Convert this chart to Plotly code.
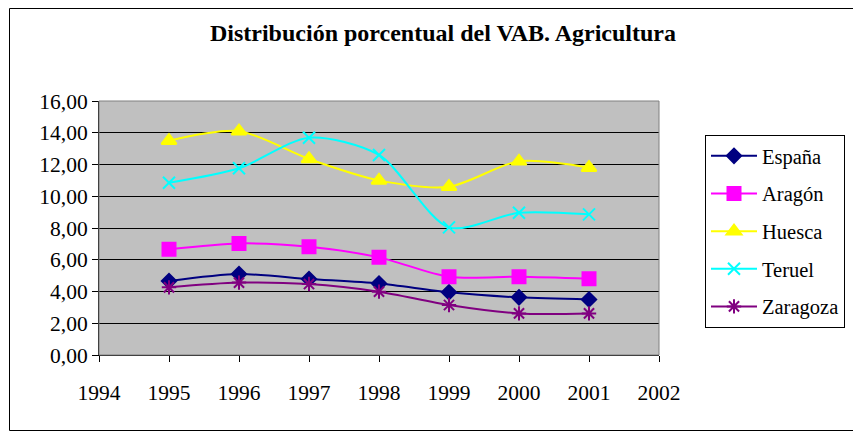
import plotly.graph_objects as go

years = [1995, 1996, 1997, 1998, 1999, 2000, 2001]
espana = [4.66, 5.10, 4.79, 4.50, 3.95, 3.63, 3.50]
aragon = [6.66, 7.03, 6.82, 6.15, 4.93, 4.93, 4.81]
huesca = [13.50, 14.10, 12.35, 11.00, 10.60, 12.20, 11.80]
teruel = [10.85, 11.76, 13.69, 12.60, 8.04, 8.96, 8.86]
zaragoza = [4.26, 4.56, 4.47, 3.99, 3.15, 2.62, 2.62]

series = [
    ("España", espana, "#000080", "diamond", 11),
    ("Aragón", aragon, "#FF00FF", "square", 13),
    ("Huesca", huesca, "#FFFF00", "triangle-up", 13),
    ("Teruel", teruel, "#00FFFF", "x-thin", 12),
    ("Zaragoza", zaragoza, "#800080", "asterisk", 12),
]

FONT = "Liberation Serif"
OFF = 8  # page body margin

W, H = 861 - OFF, 432 - OFF
L, T = 99 - OFF, 101 - OFF
PW, PH = 560, 254
R, B = W - L - PW, H - T - PH


def px(xp):
    return (xp - 99) / PW


def py(yp):
    return (355 - yp) / PH


fig = go.Figure()
for i, (name, vals, color, sym, size) in enumerate(series):
    fig.add_trace(go.Scatter(
        x=years, y=vals, name=name, mode="lines+markers",
        line=dict(color=color, width=2, shape="spline", smoothing=0.8),
        marker=dict(symbol=sym, size=size, color=color,
                    line=dict(color=color, width=2)),
        legendgroup=f"g{i}",
    ))

fig.update_layout(
    width=W, height=H,
    margin=dict(l=L, r=R, t=T, b=B),
    paper_bgcolor="white",
    plot_bgcolor="#C0C0C0",
    separators=",.",
    font=dict(family=FONT, size=21.5, color="black"),
    title=dict(text="<b>Distribución porcentual del VAB. Agricultura</b>",
               x=(443 - OFF) / W, xanchor="center", y=1 - (33 - OFF) / H,
               yanchor="middle",
               font=dict(family=FONT, size=24, color="black")),
    showlegend=True,
    legend=dict(x=px(705), xanchor="left", y=py(135), yanchor="top",
                bgcolor="white", bordercolor="black", borderwidth=1,
                font=dict(family=FONT, size=20.5, color="black"),
                tracegroupgap=8, traceorder="grouped", itemwidth=46),
    xaxis=dict(range=[1994, 2002], dtick=1, tick0=1994, showgrid=False,
               zeroline=False, showline=True, linecolor="black", linewidth=1,
               ticks="outside", ticklen=6, tickcolor="black",
               ticklabelstandoff=12, tickfont=dict(size=21.5)),
    yaxis=dict(range=[0, 16], dtick=2, tickformat=".2f", showgrid=True,
               gridcolor="black", gridwidth=1, zeroline=False,
               showline=True, linecolor="black", linewidth=1,
               ticks="outside", ticklen=6, tickcolor="black",
               tickfont=dict(size=21.5)),
    shapes=[
        dict(type="rect", xref="paper", yref="paper", x0=0, x1=1, y0=0, y1=1,
             line=dict(color="#808080", width=1), layer="above"),
        dict(type="rect", xref="paper", yref="paper",
             x0=px(9.5), x1=px(858.5), y0=py(430.5), y1=py(8.5),
             line=dict(color="black", width=1), layer="above"),
    ],
)

fig.write_html("out.html")
